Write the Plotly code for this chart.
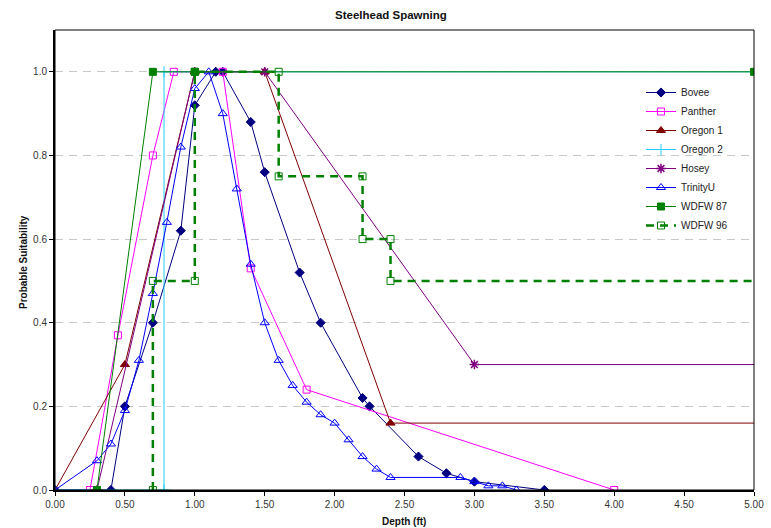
import plotly.graph_objects as go

# ---- data ----
bovee_x = [0.0, 0.4, 0.5, 0.7, 0.9, 1.0, 1.15, 1.2, 1.4, 1.5, 1.75, 1.9, 2.2, 2.25, 2.6, 2.8, 3.0, 3.5]
bovee_y = [0.0, 0.0, 0.2, 0.4, 0.62, 0.92, 1.0, 1.0, 0.88, 0.76, 0.52, 0.4, 0.22, 0.2, 0.08, 0.04, 0.02, 0.0]

panther_x = [0.25, 0.45, 0.7, 0.85, 1.2, 1.4, 1.8, 4.0]
panther_y = [0.0, 0.37, 0.8, 1.0, 1.0, 0.53, 0.24, 0.0]

oregon1_x = [0.0, 0.5, 1.0, 1.5, 2.4, 6.0]
oregon1_y = [0.0, 0.3, 1.0, 1.0, 0.16, 0.16]

oregon2_x = [0.0, 0.78, 0.78, 6.0]
oregon2_y = [0.0, 0.0, 1.0, 1.0]

hosey_x = [0.3, 1.0, 1.5, 3.0, 6.0]
hosey_y = [0.0, 1.0, 1.0, 0.3, 0.3]

trinity_x = [0.0, 0.3, 0.4, 0.5, 0.6, 0.7, 0.8, 0.9, 1.0, 1.1, 1.2, 1.3, 1.4, 1.5, 1.6, 1.7,
             1.8, 1.9, 2.0, 2.1, 2.2, 2.3, 2.4, 2.9, 3.0, 3.1, 3.2, 3.3]
trinity_y = [0.0, 0.07, 0.11, 0.19, 0.31, 0.47, 0.64, 0.82, 0.96, 1.0, 0.9, 0.72, 0.54, 0.4, 0.31, 0.25,
             0.21, 0.18, 0.16, 0.12, 0.08, 0.05, 0.03, 0.03, 0.02, 0.01, 0.01, 0.0]

wdfw87_x = [0.3, 0.7, 1.0, 5.0]
wdfw87_y = [0.0, 1.0, 1.0, 1.0]

wdfw96_x = [0.7, 0.7, 1.0, 1.0, 1.6, 1.6, 2.2, 2.2, 2.4, 2.4, 6.0]
wdfw96_y = [0.0, 0.5, 0.5, 1.0, 1.0, 0.75, 0.75, 0.6, 0.6, 0.5, 0.5]

x_ticks = [0, 0.5, 1.0, 1.5, 2.0, 2.5, 3.0, 3.5, 4.0, 4.5, 5.0]
x_labels = ["0.00", "0.50", "1.00", "1.50", "2.00", "2.50", "3.00", "3.50", "4.00", "4.50", "5.00"]
y_ticks = [0, 0.2, 0.4, 0.6, 0.8, 1.0]
y_labels = ["0.0", "0.2", "0.4", "0.6", "0.8", "1.0"]

FONT = "Arial, 'Liberation Sans', sans-serif"

fig = go.Figure()

def add(name, x, y, color, symbol, size=7, width=1, dash="solid", mline=None):
    fig.add_trace(go.Scatter(
        x=x, y=y, name=name, mode="lines+markers",
        line=dict(color=color, width=width, dash=dash),
        marker=dict(symbol=symbol, size=size, color=color,
                    line=dict(color=color, width=mline if mline is not None else 1)),
    ))

add("Bovee", bovee_x, bovee_y, "#000080", "diamond", size=7)
add("Panther", panther_x, panther_y, "#FF00FF", "square-open", size=7)
add("Oregon 1", oregon1_x, oregon1_y, "#800000", "triangle-up", size=8)
add("Oregon 2", oregon2_x, oregon2_y, "#22CCFF", "cross-thin-open", size=8, mline=1)
add("Hosey", hosey_x, hosey_y, "#800080", "asterisk-open", size=8, mline=1.5)
add("TrinityU", trinity_x, trinity_y, "#0000FF", "triangle-up-open", size=8)
add("WDFW 87", wdfw87_x, wdfw87_y, "#008000", "square", size=7)
add("WDFW 96", wdfw96_x, wdfw96_y, "#008000", "square-open", size=7, width=2.5, dash="8px,6px")

L, R, T, B = 55, 17, 30, 38
W, H = 771, 528
pw, ph = W - L - R, H - T - B

def px(xp):
    return (xp - L) / pw

def py(yp):
    return (H - B - yp) / ph

fig.update_layout(
    width=W, height=H, autosize=False,
    margin=dict(l=L, r=R, t=T, b=B, autoexpand=False),
    paper_bgcolor="white", plot_bgcolor="white",
    font=dict(family=FONT, size=10, color="#222222"),
    showlegend=True,
    legend=dict(x=px(641), y=py(78), xanchor="left", yanchor="top",
                font=dict(size=10, color="#222222"), bgcolor="rgba(0,0,0,0)",
                tracegroupgap=0, itemwidth=30),
    annotations=[
        dict(text="<b>Steelhead Spawning</b>", xref="paper", yref="paper",
             x=px(391), y=py(15), xanchor="center", yanchor="middle",
             showarrow=False, font=dict(size=11.5, color="#111111")),
        dict(text="<b>Depth (ft)</b>", xref="paper", yref="paper",
             x=px(404), y=py(521), xanchor="center", yanchor="middle",
             showarrow=False, font=dict(size=10, color="#111111")),
        dict(text="<b>Probable Suitability</b>", xref="paper", yref="paper",
             x=px(23), y=py(262), xanchor="center", yanchor="middle", textangle=-90,
             showarrow=False, font=dict(size=10, color="#111111")),
    ],
)

fig.update_xaxes(
    range=[0, 5], tickvals=x_ticks, ticktext=x_labels, automargin=False,
    showline=True, linecolor="black", linewidth=2, mirror=False,
    ticks="outside", ticklen=4, tickcolor="black", tickwidth=1,
    showgrid=False, zeroline=False,
    tickfont=dict(size=10, color="#333333"),
)
fig.update_yaxes(
    range=[0, 1.1], tickvals=y_ticks, ticktext=y_labels, automargin=False,
    showline=True, linecolor="black", linewidth=2, mirror=False,
    ticks="outside", ticklen=4, tickcolor="black", tickwidth=1,
    showgrid=True, gridcolor="#C8C8C8", gridwidth=1, griddash="8px,6px",
    zeroline=False,
    tickfont=dict(size=10, color="#333333"),
)

fig.add_shape(type="rect", xref="paper", yref="paper", x0=0, y0=0, x1=1, y1=1,
              line=dict(color="black", width=1), layer="above")

fig.write_html("out.html")
